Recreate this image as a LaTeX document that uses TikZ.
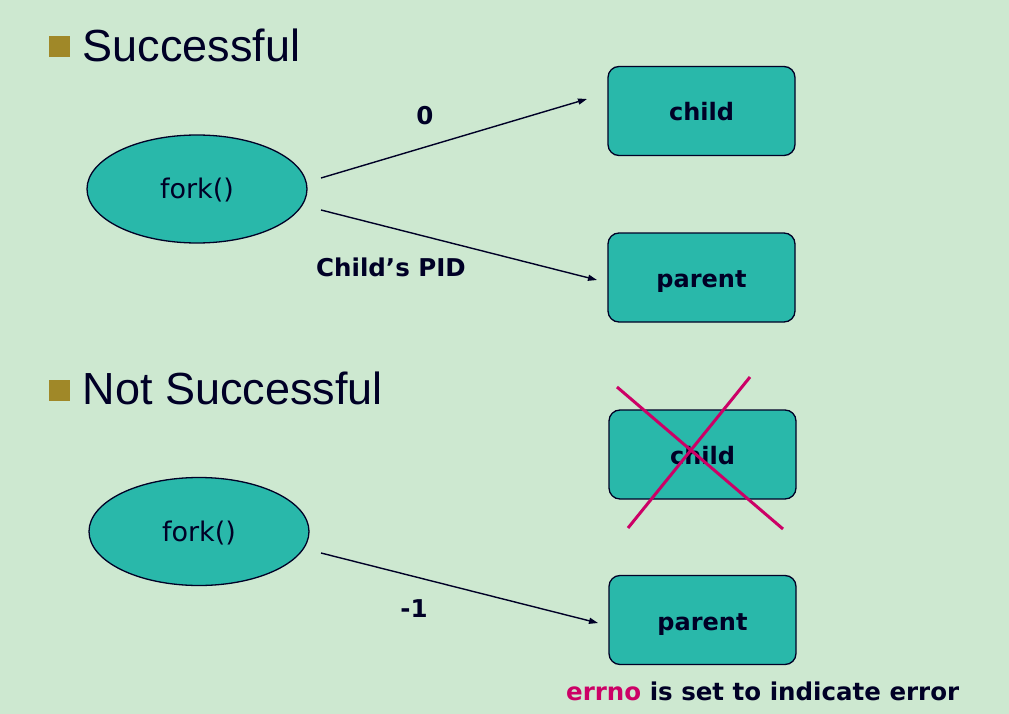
\documentclass[tikz,border=0pt]{standalone}
\usepackage{fontspec}
\setmainfont{DejaVu Sans}
\newfontfamily\arialfont{Liberation Sans}
\usetikzlibrary{arrows.meta,shapes.geometric}
\definecolor{bg}{RGB}{205,232,208}
\definecolor{teal}{RGB}{41,184,170}
\definecolor{navy}{RGB}{0,0,38}
\definecolor{gold}{RGB}{160,136,40}
\definecolor{mag}{RGB}{204,0,102}
\tikzset{
  box/.style={draw=navy, line width=1.3pt, fill=teal, rounded corners=11pt, minimum width=187pt, minimum height=89pt, inner sep=0pt, text height=20pt, text depth=0pt, font=\bfseries\fontsize{24}{28}\selectfont, text=navy},
  ell/.style={draw=navy, line width=1.3pt, fill=teal, ellipse, minimum width=220pt, minimum height=108pt, inner sep=0pt, text height=20pt, text depth=0pt, font=\fontsize{27}{31}\selectfont, text=navy},
  conn/.style={draw=navy, line width=1.4pt, -{Triangle[length=9pt,width=6pt]}},
  lbl/.style={font=\bfseries\fontsize{24.5}{28}\selectfont, text=navy},
  head/.style={font=\arialfont\fontsize{45}{50}\selectfont, text=navy, anchor=west},
  bullet/.style={fill=gold, minimum size=21pt, inner sep=0pt},
  cross/.style={draw=mag, line width=3pt}
}
\begin{document}
\begin{tikzpicture}[x=1pt,y=-1pt]
\fill[bg] (0,0) rectangle (1009,714);
\useasboundingbox (0,0) rectangle (1009,714);
% headings
\node[bullet] (b1) at (59,47) {};
\node[head] (h1) at (79,45) {Successful};
\node[bullet] (b2) at (59,390) {};
\node[head] (h2) at (79,388) {Not Successful};
% top part
\node[ell] (f1) at (197,189) {fork()};
\node[box] (c1) at (701.5,111) {child};
\node[box] (p1) at (701.5,277.5) {parent};
\coordinate (s1) at (321,178);
\coordinate (e1) at (587,99);
\coordinate (s2) at (321,210);
\coordinate (e2) at (597,280);
\draw[conn] (s1) -- (e1);
\draw[conn] (s2) -- (e2);
\node[lbl] (l0) at (425,116) {0};
\node[lbl] (lpid) at (391,267) {Child’s PID};
% bottom part
\node[ell] (f2) at (199,531.5) {fork()};
\node[box] (c2) at (702.5,454.5) {child};
\node[box] (p2) at (702.5,620) {parent};
\coordinate (x1a) at (617,387);
\coordinate (x1b) at (783,529);
\coordinate (x2a) at (750,377);
\coordinate (x2b) at (628,528);
\draw[cross] (x1a) -- (x1b);
\draw[cross] (x2a) -- (x2b);
\coordinate (s3) at (321,553);
\coordinate (e3) at (598,623);
\draw[conn] (s3) -- (e3);
\node[lbl] (lm1) at (414,609) {-1};
\node[lbl, anchor=west, inner sep=0pt] (err) at (566,691) {\textcolor{mag}{errno} is set to indicate error};
\end{tikzpicture}
\end{document}
